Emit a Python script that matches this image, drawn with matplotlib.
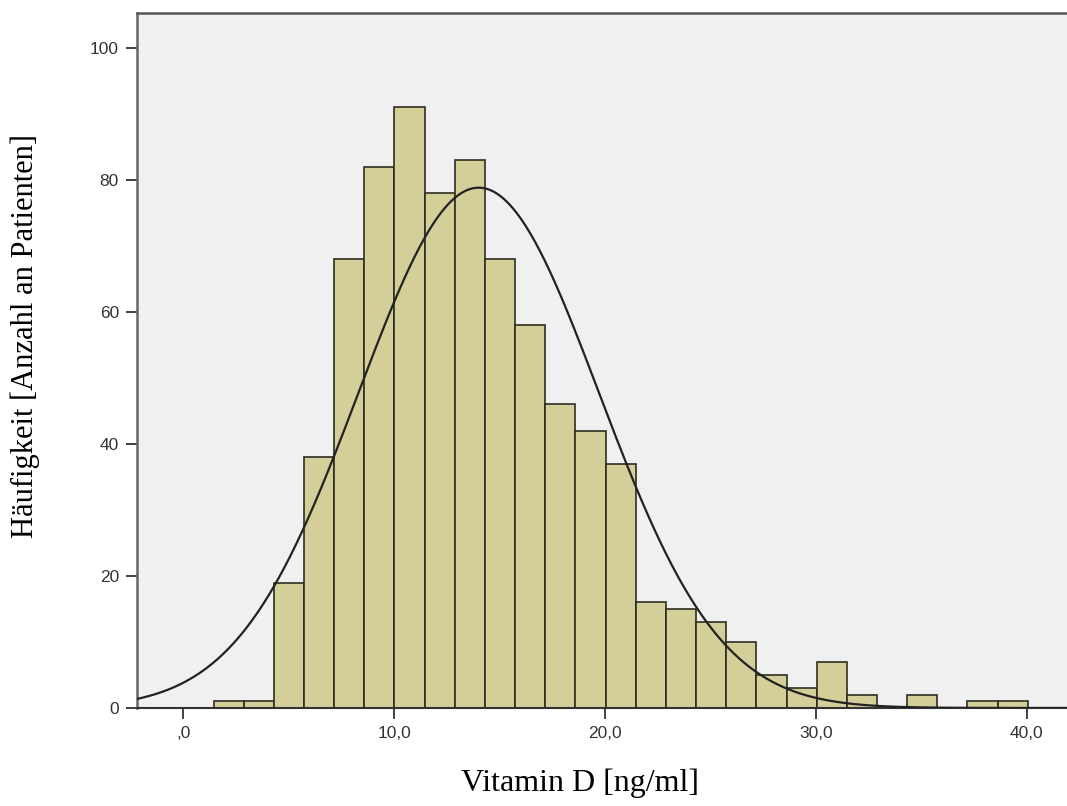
from __future__ import annotations

import matplotlib

matplotlib.use("Agg")
import matplotlib.pyplot as plt
import numpy as np


# histogram
BIN_START = 1.43
BIN_WIDTH = 1.43
COUNTS = [1, 1, 19, 38, 68, 82, 91, 78, 83, 68, 58, 46, 42, 37,
          16, 15, 13, 10, 5, 3, 7, 2, 0, 2, 0, 1, 1]

X_TICKS = [0, 10, 20, 30, 40]
X_TICK_LABELS = [",0", "10,0", "20,0", "30,0", "40,0"]
Y_TICKS = [0, 20, 40, 60, 80, 100]
Y_TICK_LABELS = ["0", "20", "40", "60", "80", "100"]

X_LABEL = "Vitamin D [ng/ml]"
Y_LABEL = "Häufigkeit [Anzahl an Patienten]"

BAR_COLOR = "#d4cf98"
EDGE_COLOR = "#2e2d22"
BG_COLOR = "#f0f0f0"


def main() -> None:
    counts = np.array(COUNTS, dtype=float)
    lefts = BIN_START + BIN_WIDTH * np.arange(len(counts))
    mids = lefts + BIN_WIDTH / 2

    # normal curve from the binned data (mean, sd), scaled to counts
    n = counts.sum()
    mean = float(np.sum(mids * counts) / n)
    sd = float(np.sqrt(np.sum(counts * (mids - mean) ** 2) / n))

    fig = plt.figure(figsize=(10.67, 8.06), dpi=100)
    ax = fig.add_axes([0.1284, 0.1216, 0.8716, 0.8623])
    ax.set_facecolor(BG_COLOR)

    ax.bar(lefts, counts, width=BIN_WIDTH, align="edge", color=BAR_COLOR,
           edgecolor=EDGE_COLOR, linewidth=1.2, zorder=2)

    xs = np.linspace(-2.2, 42, 600)
    ys = n * BIN_WIDTH / (sd * np.sqrt(2 * np.pi)) * np.exp(-0.5 * ((xs - mean) / sd) ** 2)
    ax.plot(xs, ys, color="#222222", linewidth=1.6, zorder=3)

    ax.set_xlim(-2.2, 41.9)
    ax.set_ylim(0, 105.3)

    ax.set_xticks(X_TICKS)
    ax.set_xticklabels(X_TICK_LABELS)
    ax.set_yticks(Y_TICKS)
    ax.set_yticklabels(Y_TICK_LABELS)
    ax.tick_params(axis="both", direction="out", length=8, width=1.3, color="#333333",
                   labelsize=12.5, labelcolor="#333333", pad=5)
    for lab in ax.get_xticklabels() + ax.get_yticklabels():
        lab.set_family("Liberation Sans")

    ax.spines["right"].set_visible(False)
    ax.spines["left"].set_color("#666666")
    ax.spines["left"].set_linewidth(1.8)
    ax.spines["top"].set_color("#555555")
    ax.spines["top"].set_linewidth(1.8)
    ax.spines["bottom"].set_color("#333333")
    ax.spines["bottom"].set_linewidth(1.5)

    fig.text(0.5436, 0.028, X_LABEL, ha="center", va="center",
             family="Liberation Serif", fontsize=23)
    fig.text(0.024, 0.583, Y_LABEL, ha="center", va="center", rotation=90,
             family="Liberation Serif", fontsize=22)

    fig.savefig("out.png", dpi=100, facecolor="white")
    plt.close(fig)


if __name__ == "__main__":
    main()
